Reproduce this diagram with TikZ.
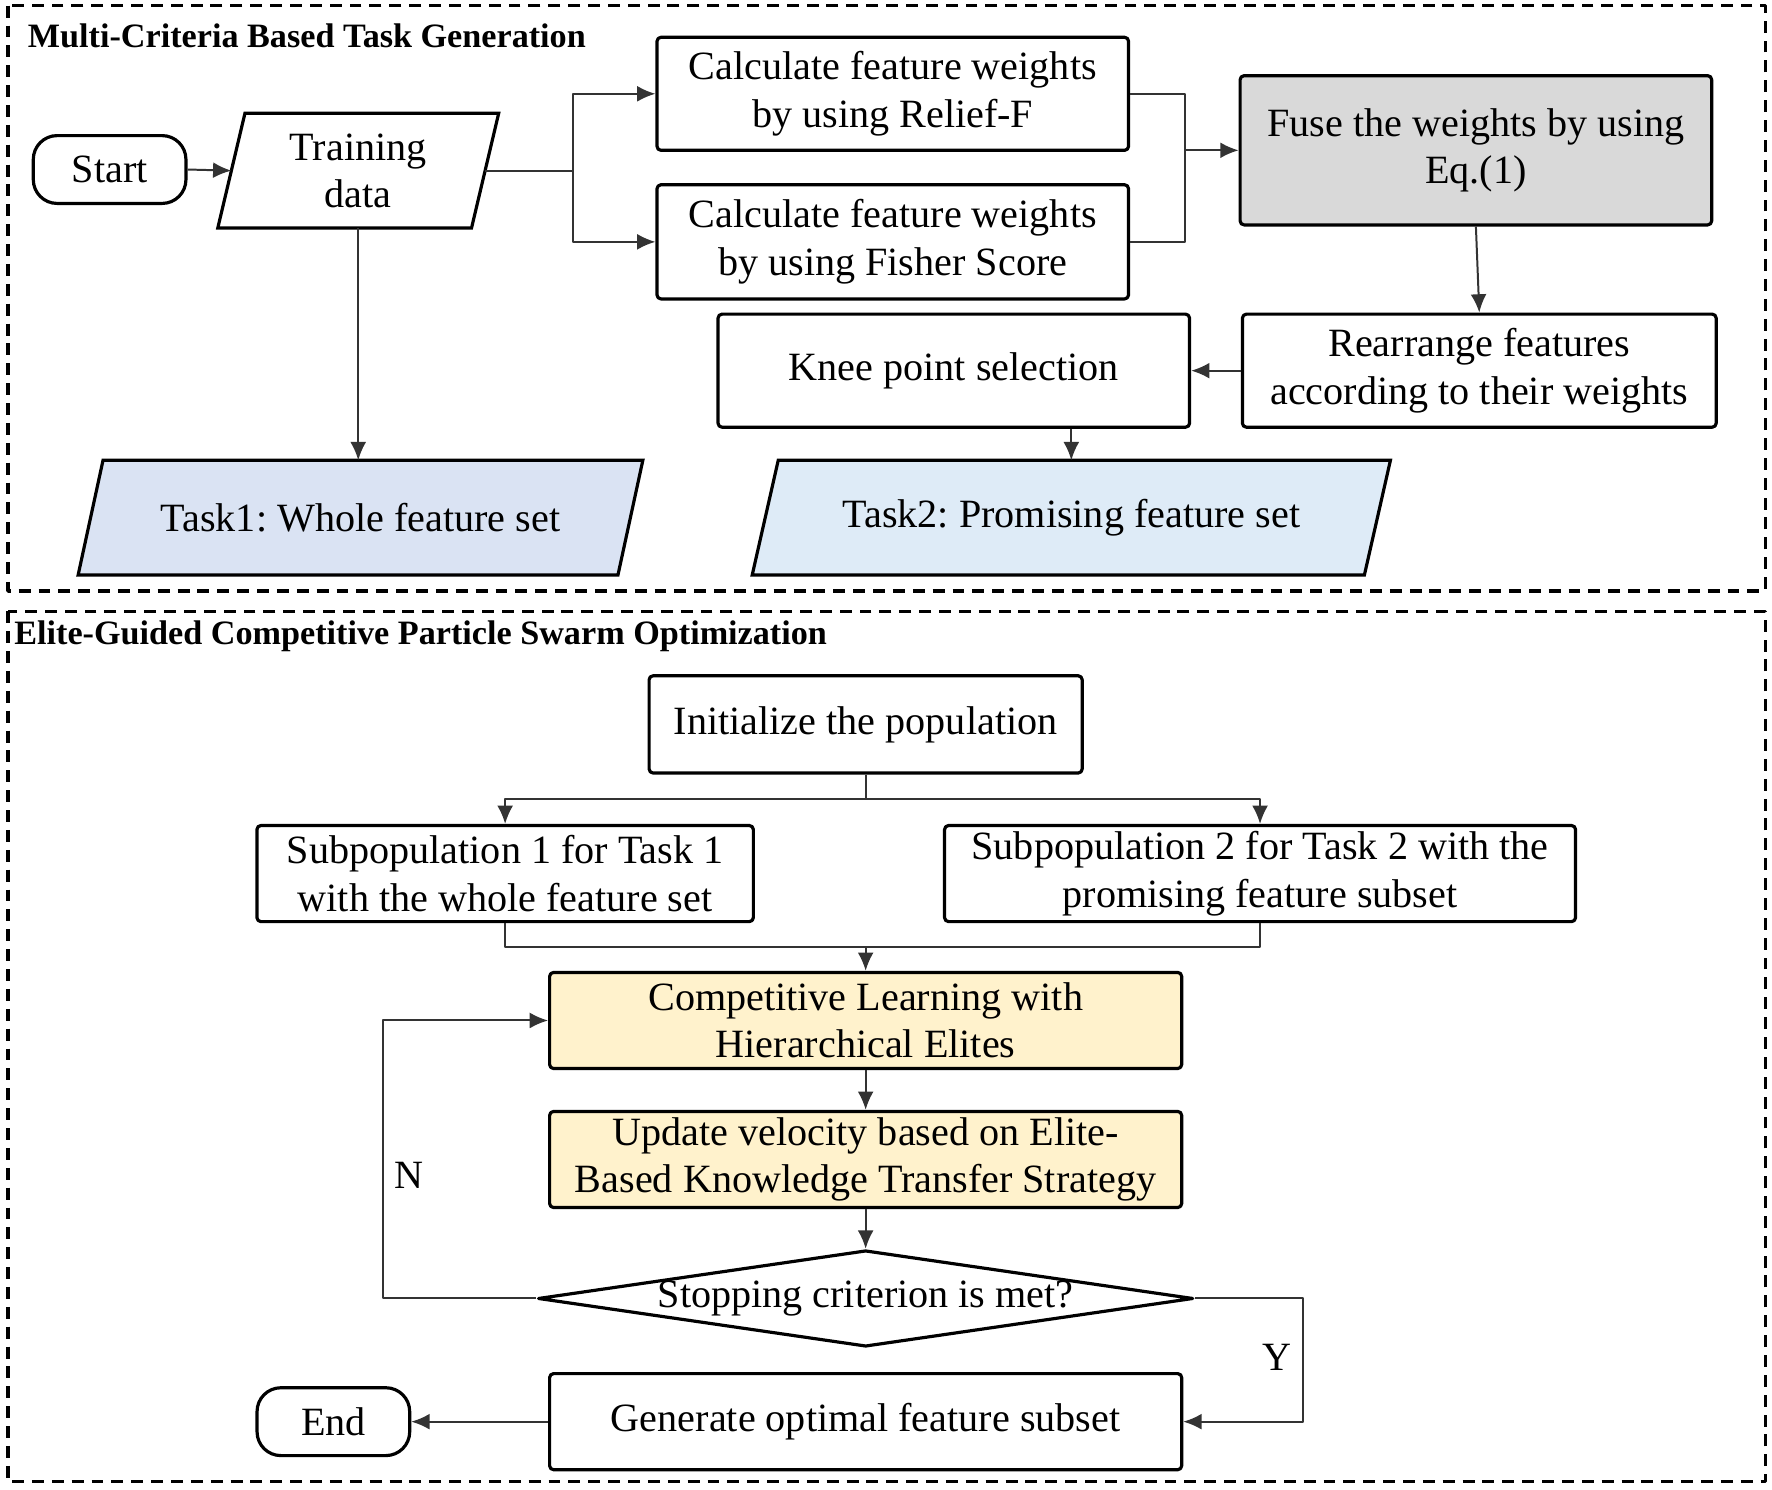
\documentclass[tikz,border=0pt]{standalone}
\usepackage{fontspec}
\setmainfont{Liberation Serif}
\usetikzlibrary{shapes.geometric,arrows.meta,backgrounds}
\definecolor{taskA}{HTML}{DAE3F3}
\definecolor{taskB}{HTML}{DEEBF7}
\definecolor{elite}{HTML}{FFF2CC}
\begin{document}
\frenchspacing
\begin{tikzpicture}[x=0.01cm,y=-0.01cm,line join=round,font=\fontsize{10.1}{11.9}\selectfont,
	box/.style={draw,line width=0.8pt,rounded corners=1pt,inner sep=0pt,align=center},
	term/.style={draw,line width=0.8pt,rounded corners=6pt,inner sep=0pt,minimum width=1.35cm,minimum height=0.6cm},
	data/.style={inner sep=0pt,align=center,minimum height=1cm},
	para/.style={draw,line width=0.8pt},
	arr/.style={line width=0.5pt,draw=black!80,-{Latex[length=4.6pt,width=4pt]}},
	ln/.style={line width=0.5pt,draw=black!80},
	frame/.style={line width=0.8pt,dash pattern=on 3pt off 2pt},
	ttl/.style={font=\fontsize{8.6}{9}\selectfont\bfseries,anchor=west,inner sep=0pt}]
	\useasboundingbox (0,0) rectangle (1568,1318);
	\draw[frame] (7,5) rectangle (1562,523);
	\draw[frame] (7,541) rectangle (1562,1311);
	\node[ttl] (t1) at (24,32) {Multi-Criteria Based Task Generation};
	\node[ttl] (t2) at (12,563) {Elite-Guided Competitive Particle Swarm Optimization};
	\node[term] (start) at (97,150) {Start};
	\node[data,minimum width=2.23cm] (train) at (317,151) {Training\\data};
	\node[box,minimum width=4.17cm,minimum height=1cm] (relief) at (790,83) {Calculate feature weights\\by using Relief-F};
	\node[box,minimum width=4.17cm,minimum height=1.01cm] (fisher) at (790,214) {Calculate feature weights\\by using Fisher Score};
	\node[box,fill=black!15,minimum width=4.17cm,minimum height=1.32cm] (fuse) at (1306,133) {Fuse the weights by using\\Eq.(1)};
	\node[box,minimum width=4.19cm,minimum height=1cm] (rear) at (1309,328) {Rearrange features\\according to their weights};
	\node[box,minimum width=4.17cm,minimum height=1cm] (knee) at (844,328) {Knee point selection};
	\node[data,minimum width=4.76cm] (task1) at (319,458) {Task1: Whole feature set};
	\node[data,minimum width=5.4cm] (task2) at (948,458) {Task2: Promising feature set};
	\begin{scope}[on background layer]
		\draw[para] ([xshift=0.12cm]train.north west) -- ([xshift=0.12cm]train.north east) -- ([xshift=-0.12cm]train.south east) -- ([xshift=-0.12cm]train.south west) -- cycle;
		\draw[para,fill=taskA] ([xshift=0.11cm]task1.north west) -- ([xshift=0.11cm]task1.north east) -- ([xshift=-0.11cm]task1.south east) -- ([xshift=-0.11cm]task1.south west) -- cycle;
		\draw[para,fill=taskB] ([xshift=0.115cm]task2.north west) -- ([xshift=0.115cm]task2.north east) -- ([xshift=-0.115cm]task2.south east) -- ([xshift=-0.115cm]task2.south west) -- cycle;
	\end{scope}
	\coordinate (sp1) at (507,151);
	\coordinate (mg1) at (1049,133);
	\draw[arr] (start.east) -- (train.west);
	\draw[ln] (train.east) -- (sp1);
	\draw[arr] (sp1) |- (relief.west);
	\draw[arr] (sp1) |- (fisher.west);
	\draw[ln] (relief.east) -| (mg1);
	\draw[ln] (fisher.east) -| (mg1);
	\draw[arr] (mg1) -- (fuse.west);
	\draw[arr] (fuse.south) -- (rear.north);
	\draw[arr] (rear.west) -- (knee.east);
	\draw[arr] (knee.south -| task2.north) -- (task2.north);
	\draw[arr] (train.south) -- (train.south |- task1.north);
	\node[box,minimum width=3.83cm,minimum height=0.86cm] (init) at (766,641) {Initialize the population};
	\node[box,minimum width=4.39cm,minimum height=0.85cm] (sub1) at (447,773) {Subpopulation 1 for Task 1\\with the whole feature set};
	\node[box,minimum width=5.58cm,minimum height=0.85cm] (sub2) at (1115,773) {Subpopulation 2 for Task 2 with the\\promising feature subset};
	\node[box,fill=elite,minimum width=5.59cm,minimum height=0.85cm] (comp) at (766,903) {Competitive Learning with\\Hierarchical Elites};
	\node[box,fill=elite,minimum width=5.59cm,minimum height=0.85cm] (upd) at (766,1026) {Update velocity based on Elite-\\Based Knowledge Transfer Strategy};
	\node[draw,line width=0.8pt,diamond,aspect=6.8,inner sep=0pt,minimum width=5.79cm,minimum height=0.85cm] (stop) at (766,1149) {Stopping criterion is met?};
	\node[box,minimum width=5.59cm,minimum height=0.85cm] (gen) at (766,1258) {Generate optimal feature subset};
	\node[term] (finish) at (295,1258) {End};
	\coordinate (sp2) at (766,707);
	\coordinate (mg2) at (766,838);
	\coordinate (nback) at (339,1040);
	\coordinate (yback) at (1153,1201);
	\draw[ln] (init.south) -- (sp2);
	\draw[arr] (sp2) -| (sub1.north);
	\draw[arr] (sp2) -| (sub2.north);
	\draw[ln] (sub1.south) |- (mg2);
	\draw[ln] (sub2.south) |- (mg2);
	\draw[arr] (mg2) -- (comp.north);
	\draw[arr] (comp.south) -- (upd.north);
	\draw[arr] (upd.south) -- (stop.north);
	\draw[arr] (stop.west) -| (nback) |- (comp.west);
	\draw[arr] (stop.east) -| (yback) |- (gen.east);
	\draw[arr] (gen.west) -- (finish.east);
	\node (nlab) at (362,1040) {N};
	\node (ylab) at (1130,1201) {Y};
\end{tikzpicture}
\end{document}
